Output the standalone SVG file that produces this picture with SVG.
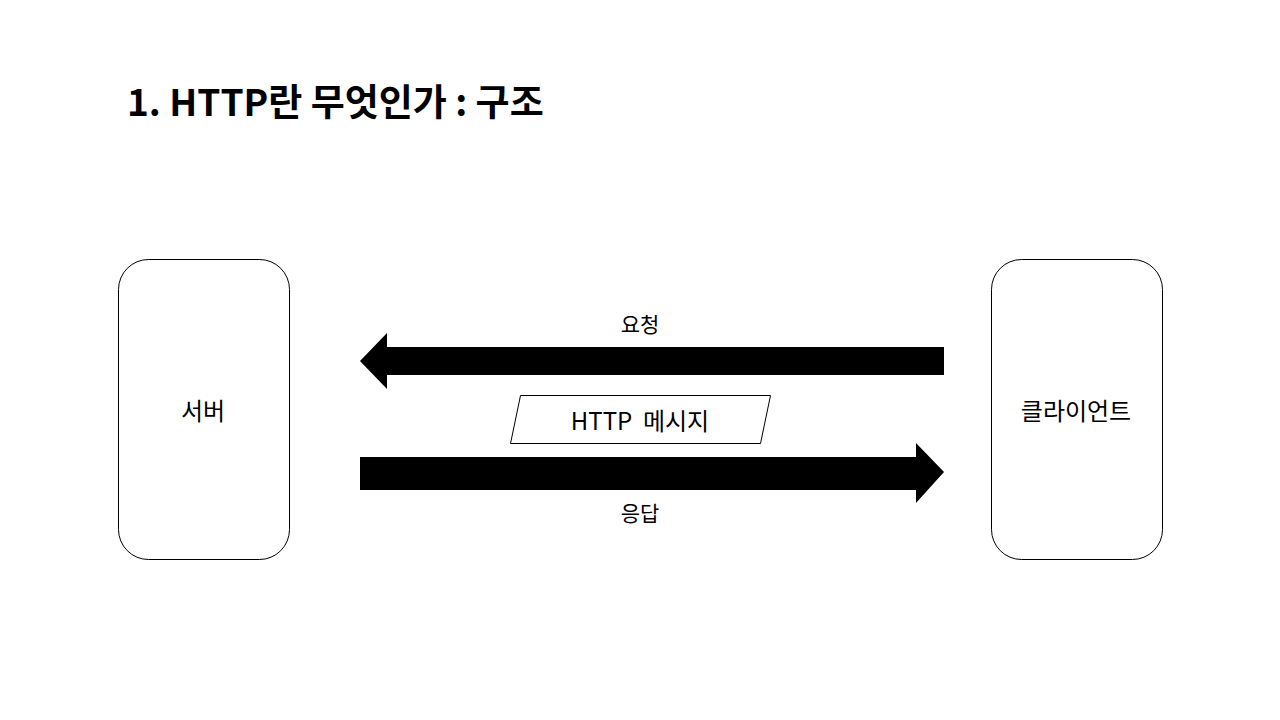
<svg xmlns="http://www.w3.org/2000/svg" width="1280" height="720" viewBox="0 0 1280 720">
<style>
.box{fill:#fff;stroke:#000;stroke-width:1}
.t{font-family:"Noto Sans CJK KR","Noto Sans",sans-serif;fill:#000;text-anchor:middle;dominant-baseline:central}
.arrow{fill:#000;stroke:none}
</style>
<rect width="1280" height="720" fill="#fff"/>
<text id="title" x="127" y="116" font-family="Noto Sans CJK KR, Noto Sans, sans-serif" font-weight="bold" font-size="37" fill="#000" style="white-space:pre">1. HTTP란 무엇인가 : 구조</text>
<g id="server">
<rect class="box" x="118.5" y="259.5" width="171" height="300" rx="30" ry="30"/>
<text class="t" x="203" y="409" font-size="24">서버</text>
</g>
<g id="client">
<rect class="box" x="991.5" y="259.5" width="171" height="300" rx="30" ry="30"/>
<text class="t" x="1076" y="409" font-size="24">클라이언트</text>
</g>
<g id="connectors">
<polygon class="arrow" points="944,347 387,347 387,333 360,361 387,389 387,375 944,375"/>
<polygon class="arrow" points="360,457 916,457 916,443 944,472 916,503 916,490 360,490"/>
</g>
<g id="message">
<polygon class="box" points="520.5,395.5 770.5,395.5 760.5,443.5 510.5,443.5"/>
<text class="t" x="640" y="419" font-size="24" style="white-space:pre">HTTP  메시지</text>
</g>
<g id="labels">
<text class="t" x="640" y="323" font-size="21">요청</text>
<text class="t" x="640" y="512" font-size="21">응답</text>
</g>
</svg>
